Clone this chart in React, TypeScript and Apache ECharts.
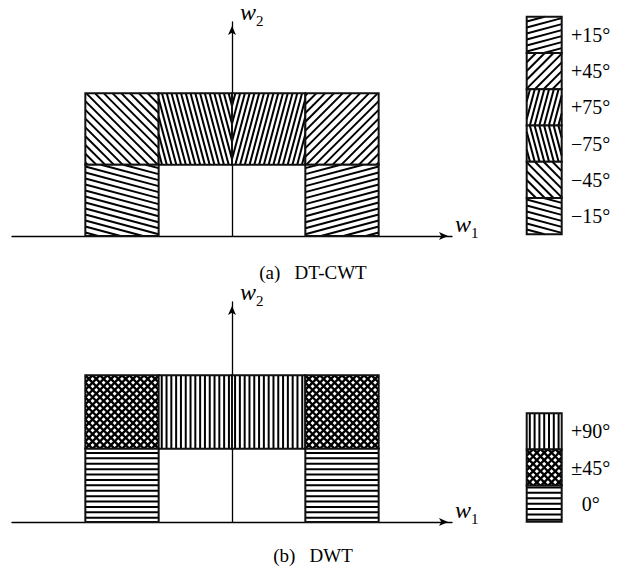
import React, { useEffect, useRef } from "react";
import * as echarts from "echarts";

// ---- data ----
const dtcwtW1Start = [-2, -1, 0, 1, -2, 1];
const dtcwtW2Start = [1, 1, 1, 1, 0, 0];
const dtcwtAngles = ["-45", "-75", "+75", "+45", "-15", "+15"];
const dtcwtLegendAngles = ["+15", "+45", "+75", "-75", "-45", "-15"];
const dtcwtLegendLabels = ["+15°", "+45°", "+75°", "−75°", "−45°", "−15°"];

const dwtW1Start = [-2, -1, 0, 1, -2, 1];
const dwtW2Start = [1, 1, 1, 1, 0, 0];
const dwtAngles = ["±45", "+90", "+90", "±45", "0", "0"];
const dwtLegendAngles = ["+90", "±45", "0"];
const dwtLegendLabels = ["+90°", "±45°", "0°"];

const captions = ["(a)   DT-CWT", "(b)   DWT"];
const w1Name = "{w|w}{s|1}";
const w2Name = "{w|w}{s|2}";

// ---- styles ----
const HATCH: Record<string, { angles: number[]; gap: number; lw: number }> = {
  "+15": { angles: [15], gap: 5.8, lw: 2 },
  "-15": { angles: [-15], gap: 5.8, lw: 2 },
  "+45": { angles: [45], gap: 6.2, lw: 2 },
  "-45": { angles: [-45], gap: 6.2, lw: 2 },
  "+75": { angles: [75], gap: 4.6, lw: 2 },
  "-75": { angles: [-75], gap: 4.6, lw: 2 },
  "+90": { angles: [90], gap: 4.8, lw: 2 },
  "0": { angles: [0], gap: 5.4, lw: 2 },
  "±45": { angles: [45, -45], gap: 5.2, lw: 2.3 },
};
const SERIF = "Liberation Serif";
const BOX_W = 2;

function hatchLines(x: number, y: number, w: number, h: number, deg: number, gap: number, lw: number) {
  const th = (deg * Math.PI) / 180;
  const dx = Math.cos(th);
  const dy = -Math.sin(th);
  const nx = -dy;
  const ny = dx;
  const cx = x + w / 2;
  const cy = y + h / 2;
  const R = Math.abs(nx) * (w / 2) + Math.abs(ny) * (h / 2);
  const L = w + h;
  const out: any[] = [];
  for (let t = -Math.floor(R / gap) * gap; t <= R; t += gap) {
    const px = cx + nx * t;
    const py = cy + ny * t;
    let s0 = -L;
    let s1 = L;
    const clip = (p: number, q: number) => {
      if (Math.abs(p) < 1e-9) return q >= 0;
      const r = q / p;
      if (p < 0) {
        if (r > s1) return false;
        if (r > s0) s0 = r;
      } else {
        if (r < s0) return false;
        if (r < s1) s1 = r;
      }
      return true;
    };
    if (!clip(-dx, px - x)) continue;
    if (!clip(dx, x + w - px)) continue;
    if (!clip(-dy, py - y)) continue;
    if (!clip(dy, y + h - py)) continue;
    if (s1 - s0 < 0.5) continue;
    out.push({
      type: "line",
      shape: { x1: px + dx * s0, y1: py + dy * s0, x2: px + dx * s1, y2: py + dy * s1 },
      style: { stroke: "#000", lineWidth: lw },
      silent: true,
    });
  }
  return out;
}

function cellGroup(tl: number[], br: number[], key: string, extra: any[] = []) {
  const x = tl[0];
  const y = tl[1];
  const w = br[0] - tl[0];
  const h = br[1] - tl[1];
  const pat = HATCH[key];
  const children: any[] = [
    { type: "rect", shape: { x, y, width: w, height: h }, style: { fill: "#fff" } },
  ];
  pat.angles.forEach((a) => children.push(...hatchLines(x, y, w, h, a, pat.gap, pat.lw)));
  children.push({
    type: "rect",
    shape: { x, y, width: w, height: h },
    style: { fill: "none", stroke: "#111", lineWidth: BOX_W },
  });
  children.push(...extra);
  return { type: "group", children };
}

function cellsSeries(w1: number[], w2: number[], keys: string[], gi: number) {
  return {
    type: "custom",
    xAxisIndex: gi,
    yAxisIndex: gi,
    data: w1.map((v, i) => [v, w2[i]]),
    renderItem: (params: any, api: any) => {
      const x0 = api.value(0);
      const y0 = api.value(1);
      const tl = api.coord([x0, y0 + 1]);
      const br = api.coord([x0 + 1, y0]);
      return cellGroup(tl, br, keys[params.dataIndex]);
    },
  };
}

function legendSeries(keys: string[], labels: string[], gi: number) {
  const n = keys.length;
  return {
    type: "custom",
    xAxisIndex: gi,
    yAxisIndex: gi,
    data: keys.map((_, i) => [0, n - 1 - i]),
    renderItem: (params: any, api: any) => {
      const y0 = api.value(1);
      const tl = api.coord([0, y0 + 1]);
      const br = api.coord([1, y0]);
      const txt = {
        type: "text",
        x: br[0] + 29,
        y: (tl[1] + br[1]) / 2,
        style: {
          text: labels[params.dataIndex],
          fill: "#000",
          fontSize: 20,
          fontFamily: SERIF,
          textAlign: "center",
          textVerticalAlign: "middle",
          align: "center",
          verticalAlign: "middle",
        },
      };
      return cellGroup(tl, br, keys[params.dataIndex], [txt]);
    },
  };
}

const nameRich = {
  w: { fontFamily: SERIF, fontStyle: "italic", fontSize: 24, color: "#000", lineHeight: 24 },
  s: { fontFamily: SERIF, fontSize: 15, color: "#000", lineHeight: 15, verticalAlign: "bottom", padding: [0, 0, -4, 0] },
};

function mainX(gi: number) {
  return {
    gridIndex: gi,
    type: "value",
    min: -3,
    max: 3,
    axisLine: {
      show: true,
      onZero: true,
      symbol: ["none", "arrow"],
      symbolSize: [6, 9],
      symbolOffset: [0, -4],
      lineStyle: { color: "#000", width: 1.3 },
    },
    axisTick: { show: false },
    axisLabel: { show: false },
    splitLine: { show: false },
    name: w1Name,
    nameLocation: "end",
    nameGap: 3,
    nameTextStyle: { rich: nameRich, verticalAlign: "middle", padding: [0, 0, 24, 0] },
  };
}
function mainY(gi: number) {
  return {
    gridIndex: gi,
    type: "value",
    min: 0,
    max: 3,
    axisLine: {
      show: true,
      onZero: true,
      symbol: ["none", "arrow"],
      symbolSize: [6, 9],
      symbolOffset: [0, -4],
      lineStyle: { color: "#000", width: 1.3 },
    },
    axisTick: { show: false },
    axisLabel: { show: false },
    splitLine: { show: false },
    name: w2Name,
    nameLocation: "end",
    nameGap: 0,
    nameTextStyle: { rich: nameRich, align: "left", verticalAlign: "middle", padding: [0, 0, 20, 8] },
  };
}
function hiddenX(gi: number) {
  return { gridIndex: gi, type: "value", min: 0, max: 1, show: false, splitLine: { show: false } };
}
function hiddenY(gi: number, n: number) {
  return { gridIndex: gi, type: "value", min: 0, max: n, show: false, splitLine: { show: false } };
}

export default function App() {
  const ref = useRef<HTMLDivElement>(null);
  useEffect(() => {
    document.body.style.margin = "0";
    if (!ref.current) return;
    const chart = echarts.init(ref.current, null, { renderer: "svg" });
    chart.setOption({
      animation: false,
      backgroundColor: "#fff",
      title: [
        {
          text: captions[0],
          left: 308,
          top: 258,
          textAlign: "center",
          textStyle: { fontFamily: SERIF, fontSize: 19, fontWeight: "normal", color: "#000" },
        },
        {
          text: captions[1],
          left: 308,
          top: 541,
          textAlign: "center",
          textStyle: { fontFamily: SERIF, fontSize: 19, fontWeight: "normal", color: "#000" },
        },
      ],
      grid: [
        { left: 12, top: 16, width: 440, height: 220 },
        { left: 526.7, top: 16.7, width: 35, height: 217.6 },
        { left: 12, top: 302, width: 440, height: 220 },
        { left: 526.7, top: 413.3, width: 35, height: 108.4 },
      ],
      xAxis: [mainX(0), hiddenX(1), mainX(2), hiddenX(3)],
      yAxis: [mainY(0), hiddenY(1, dtcwtLegendAngles.length), mainY(2), hiddenY(3, dwtLegendAngles.length)],
      series: [
        cellsSeries(dtcwtW1Start, dtcwtW2Start, dtcwtAngles, 0),
        legendSeries(dtcwtLegendAngles, dtcwtLegendLabels, 1),
        cellsSeries(dwtW1Start, dwtW2Start, dwtAngles, 2),
        legendSeries(dwtLegendAngles, dwtLegendLabels, 3),
      ],
    });
    return () => chart.dispose();
  }, []);
  return <div ref={ref} style={{ width: 632, height: 566 }} />;
}
